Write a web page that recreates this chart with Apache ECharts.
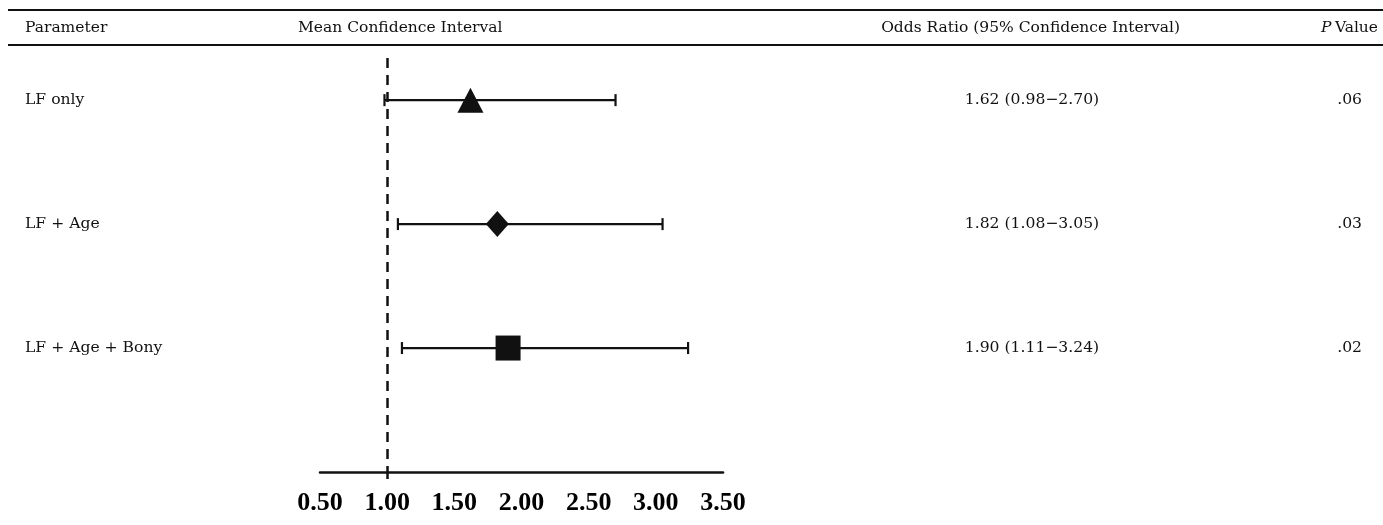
<!DOCTYPE html>
<html>
<head>
<meta charset="utf-8">
<script src="https://cdn.jsdelivr.net/npm/echarts@6/dist/echarts.min.js"></script>
<style>html,body{margin:0;padding:0;background:#fff}#c{width:1383px;height:525px}</style>
</head>
<body>
<div id="c"></div>
<script>
// ---- data ----
const rowLabels = ['LF only', 'LF + Age', 'LF + Age + Bony'];
const oddsRatio = [1.62, 1.82, 1.90];
const ciLow = [0.98, 1.08, 1.11];
const ciHigh = [2.70, 3.05, 3.24];
const pValues = ['.06', '.03', '.02'];
const headers = ['Parameter', 'Mean Confidence Interval', 'Odds Ratio (95% Confidence Interval)', 'P Value'];
const xTicks = [0.5, 1.0, 1.5, 2.0, 2.5, 3.0, 3.5];
const refValue = 1.0;

// ---- styling ----
const ink = '#111';
const serif = 'DejaVu Serif';
const headFont = '15.5px "DejaVu Serif"';
const markerShapes = ['triangle', 'diamond', 'rect'];
const markerSizes = [[26, 25], [23, 26], [25, 25]];
const minus = '\u2212';

const ciText = rowLabels.map((_, i) =>
  oddsRatio[i].toFixed(2) + ' (' + ciLow[i].toFixed(2) + minus + ciHigh[i].toFixed(2) + ')');
const rowIdx = rowLabels.map((_, i) => i);

const chart = echarts.init(document.getElementById('c'), null, {renderer: 'canvas'});

const yBase = {
  type: 'value', inverse: true, min: -0.34, max: 3,
  axisLine: {show: false}, axisTick: {show: false}, splitLine: {show: false}
};
const labelStyle = {color: ink, fontFamily: serif, fontSize: 15.6};

chart.setOption({
  animation: false,
  backgroundColor: '#fff',
  grid: {left: 320, right: 660, top: 58, bottom: 53},
  xAxis: {
    type: 'value', min: xTicks[0], max: xTicks[xTicks.length - 1], interval: 0.5,
    splitLine: {show: false},
    axisLine: {show: true, onZero: false, lineStyle: {color: ink, width: 2.5}},
    axisTick: {show: true, customValues: [refValue], length: 7, lineStyle: {color: ink, width: 2.5}},
    axisLabel: {
      color: '#000', fontFamily: 'Liberation Serif', fontWeight: 'bold', fontSize: 26, margin: 18,
      formatter: v => v.toFixed(2)
    }
  },
  yAxis: [
    Object.assign({}, yBase, {
      position: 'left',
      axisLabel: Object.assign({}, labelStyle, {customValues: rowIdx, align: 'left', margin: 295,
        formatter: v => rowLabels[Math.round(v)] || ''})
    }),
    Object.assign({}, yBase, {
      position: 'right',
      axisLabel: Object.assign({}, labelStyle, {customValues: rowIdx, align: 'center', margin: 309,
        formatter: v => ciText[Math.round(v)] || ''})
    }),
    Object.assign({}, yBase, {
      position: 'right',
      axisLabel: Object.assign({}, labelStyle, {customValues: rowIdx, align: 'right', margin: 639,
        formatter: v => pValues[Math.round(v)] || ''})
    })
  ],
  series: [
    {
      type: 'custom',
      data: rowIdx.map(i => [ciLow[i], ciHigh[i], i]),
      renderItem: function (params, api) {
        const a = api.coord([api.value(0), api.value(2)]);
        const b = api.coord([api.value(1), api.value(2)]);
        const cap = 6;
        const st = {stroke: ink, lineWidth: 2.2};
        return {
          type: 'group',
          children: [
            {type: 'line', shape: {x1: a[0], y1: a[1], x2: b[0], y2: b[1]}, style: st},
            {type: 'line', shape: {x1: a[0], y1: a[1] - cap, x2: a[0], y2: a[1] + cap}, style: st},
            {type: 'line', shape: {x1: b[0], y1: b[1] - cap, x2: b[0], y2: b[1] + cap}, style: st}
          ]
        };
      },
      z: 2
    },
    {
      type: 'scatter',
      data: rowIdx.map(i => ({
        value: [oddsRatio[i], i],
        symbol: markerShapes[i],
        symbolSize: markerSizes[i]
      })),
      itemStyle: {color: ink, opacity: 1},
      z: 3,
      markLine: {
        silent: true, symbol: 'none', label: {show: false},
        lineStyle: {color: ink, type: [10, 7], width: 2.5},
        data: [{xAxis: refValue}]
      }
    }
  ],
  graphic: [
    {type: 'line', shape: {x1: 8, y1: 10, x2: 1383, y2: 10}, style: {stroke: ink, lineWidth: 2}},
    {type: 'line', shape: {x1: 8, y1: 45, x2: 1383, y2: 45}, style: {stroke: ink, lineWidth: 2}},
    {type: 'text', x: 25, y: 28, style: {text: headers[0], fill: ink, font: headFont, verticalAlign: 'middle'}},
    {type: 'text', x: 298, y: 28, style: {text: headers[1], fill: ink, font: headFont, verticalAlign: 'middle'}},
    {type: 'text', x: 1180, y: 28, style: {text: headers[2], fill: ink, font: headFont, align: 'right', verticalAlign: 'middle'}},
    {type: 'text', x: 1378, y: 28, style: {
      text: '{i|P} {n|Value}', align: 'right', verticalAlign: 'middle',
      rich: {
        i: {fill: ink, fontFamily: serif, fontSize: 15.5, fontStyle: 'italic'},
        n: {fill: ink, fontFamily: serif, fontSize: 15.5}
      }
    }}
  ]
});
</script>
</body>
</html>
